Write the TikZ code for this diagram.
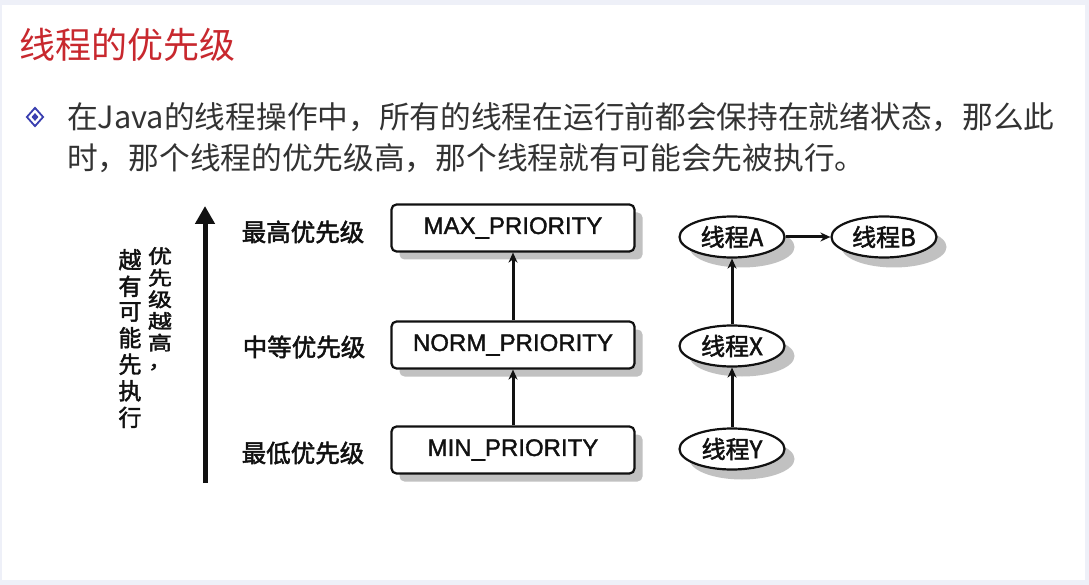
\documentclass[tikz,border=0pt]{standalone}
\usepackage{fontspec}
\usepackage{graphicx}
\setmainfont{Noto Sans CJK SC}
\newfontfamily\cjk{Noto Sans CJK SC}
\newfontfamily\cjkb[FakeBold=2]{Noto Sans CJK SC}
\newfontfamily\arial[FakeBold=1.5]{Liberation Sans}
\usetikzlibrary{arrows.meta,shapes.geometric,shadows}
\definecolor{frame}{HTML}{EEF0F8}
\definecolor{titlered}{HTML}{C8282E}
\definecolor{bodytext}{HTML}{333333}
\definecolor{bulletblue}{HTML}{3A3FB0}
\definecolor{ink}{HTML}{111111}
\tikzset{
  prio/.style={draw=ink, line width=2.2pt, rounded corners=5pt, fill=white,
    minimum width=243pt, minimum height=47pt, inner sep=0pt,
    font=\arial\fontsize{24}{26}\selectfont, text=ink,
    drop shadow={shadow xshift=8pt, shadow yshift=-8pt, fill=gray!60, opacity=0.8}},
  thr/.style={ellipse, draw=ink, line width=2.2pt, fill=white,
    minimum width=105pt, minimum height=41pt, inner sep=0pt,
    font=\cjkb\fontsize{24}{26}\selectfont, text=ink,
    drop shadow={shadow xshift=10pt, shadow yshift=-10pt, fill=gray!60, opacity=0.8}},
  lvl/.style={font=\cjkb\fontsize{24.5}{26}\selectfont, text=ink, inner sep=0pt},
  link/.style={draw=ink, line width=3pt, -{Stealth[length=10pt,width=9pt]}},
}
\begin{document}
\begin{tikzpicture}[x=1pt,y=-1pt]
\useasboundingbox (0,0) rectangle (1089,585);
\fill[frame] (0,0) rectangle (1089,585);
\fill[white] (2,5) rectangle (1085,580);
% title
\node[anchor=west, text=titlered, font=\cjk\fontsize{36}{40}\selectfont, inner sep=0pt] (title) at (19,45) {线程的优先级};
% bullet
\node[diamond, draw=bulletblue, line width=1.8pt, minimum width=17pt, minimum height=19pt, inner sep=0pt] (bul) at (35,117) {};
\node[diamond, fill=bulletblue, minimum width=7pt, minimum height=8pt, inner sep=0pt] (bulin) at (35,117) {};
\node[anchor=west, text=bodytext, font=\cjk\fontsize{30.7}{34}\selectfont, inner sep=0pt] (line1) at (67,117) {在Java的线程操作中，所有的线程在运行前都会保持在就绪状态，那么此};
\node[anchor=west, text=bodytext, font=\cjk\fontsize{30.7}{34}\selectfont, inner sep=0pt] (line2) at (67,158) {时，那个线程的优先级高，那个线程就有可能会先被执行。};
% vertical arrow
\coordinate (vbot) at (205,483);
\coordinate (vtop) at (205,206);
\draw[ink, line width=5pt, -{Triangle[length=18pt,width=19pt]}] (vbot) -- (vtop);
% vertical texts
\node[anchor=north, text=ink, font=\cjkb\fontsize{24}{23}\selectfont, inner sep=0pt] (vt1) at (160,247)
  {\scalebox{1}[0.8]{\begin{tabular}{@{}c@{}}优\\先\\级\\越\\高\\，\end{tabular}}};
\node[anchor=north, text=ink, font=\cjkb\fontsize{23}{24}\selectfont, inner sep=0pt] (vt2) at (130,249)
  {\begin{tabular}{@{}c@{}}越\\有\\可\\能\\先\\执\\行\end{tabular}};
% level labels
\node[lvl] (l1) at (303,232) {最高优先级};
\node[lvl] (l2) at (304,347) {中等优先级};
\node[lvl] (l3) at (303,453) {最低优先级};
% priority boxes
\node[prio] (max) at (513,228) {MAX\_PRIORITY};
\node[prio] (norm) at (513,345) {NORM\_PRIORITY};
\node[prio] (min) at (513,450) {MIN\_PRIORITY};
\draw[link] (norm) -- (max);
\draw[link] (min) -- (norm);
% threads
\node[thr] (ta) at (732,237) {线程A};
\node[thr] (tb) at (884,237) {线程B};
\node[thr] (tx) at (732,346) {线程X};
\node[thr] (ty) at (732,449) {线程Y};
\draw[link] (ta) -- (tb);
\draw[link] (tx) -- (ta);
\draw[link] (ty) -- (tx);
\end{tikzpicture}
\end{document}
